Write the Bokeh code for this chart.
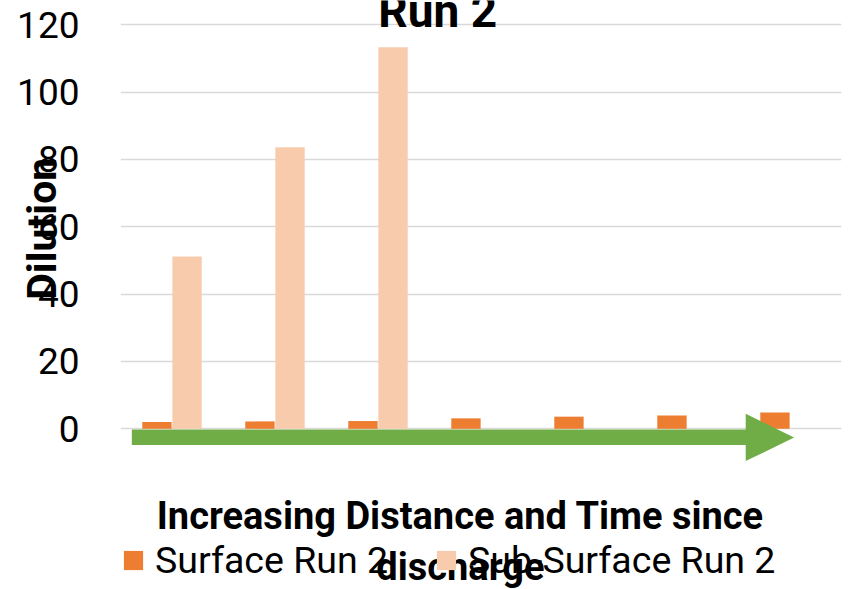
import numpy as np
from bokeh.plotting import figure
from bokeh.models import (ColumnDataSource, FactorRange, Range1d, Label, Legend,
                          LegendItem, FixedTicker)
from bokeh.transform import dodge
from bokeh.embed import file_html
from bokeh.resources import INLINE

# Sampling stations, ordered by distance / time since discharge
stations = ["S1", "S2", "S3", "S4", "S5", "S6", "S7"]

# Dilution factors for run 2
surface_run2 = [2.0, 2.2, 2.3, 3.1, 3.6, 3.95, 4.85]
subsurface_run2 = [51.2, 83.6, 113.3, np.nan, np.nan, np.nan, np.nan]

y_ticks = [0, 20, 40, 60, 80, 100, 120]

SURFACE_COLOR = "#ED7D31"
SUBSURFACE_COLOR = "#F8CBAD"
ARROW_COLOR = "#70AD47"
FONT = "Roboto"

source = ColumnDataSource(data=dict(
    station=stations,
    surface=surface_run2,
    subsurface=np.array(subsurface_run2, dtype=float),
))

p = figure(
    width=848, height=589,
    x_range=FactorRange(*stations, range_padding=0),
    y_range=Range1d(-47.73, 127.2),
    x_axis_location=None,
    toolbar_location=None,
    output_backend="svg",
    min_border_left=120, min_border_right=7,
    min_border_top=0, min_border_bottom=0,
)
p.outline_line_color = None
p.background_fill_color = "white"
p.border_fill_color = "white"

# y axis: big labels, no axis line or ticks, bold title overlapping the labels
p.yaxis.ticker = FixedTicker(ticks=y_ticks)
p.yaxis.axis_line_color = None
p.yaxis.major_tick_line_color = None
p.yaxis.minor_tick_line_color = None
p.yaxis.major_tick_out = 0
p.yaxis.major_tick_in = 0
p.yaxis.major_label_standoff = 41
p.yaxis.major_label_text_font = FONT
p.yaxis.major_label_text_font_size = "37px"
p.yaxis.major_label_text_color = "black"
# leading no-break spaces lift the centred title up alongside the 0-120 span
p.yaxis.axis_label = "\u00a0" * 13 + "Dilution"
p.yaxis.axis_label_standoff = -52
p.yaxis.axis_label_text_font = FONT
p.yaxis.axis_label_text_font_style = "bold"
p.yaxis.axis_label_text_font_size = "41px"
p.yaxis.axis_label_text_color = "black"

p.xgrid.grid_line_color = None
p.ygrid.grid_line_color = "#D9D9D9"
p.ygrid.grid_line_width = 1.5

bar_w = 0.285
r_surf = p.vbar(x=dodge("station", -0.146, range=p.x_range), top="surface",
                width=bar_w, source=source, color=SURFACE_COLOR, line_color=None)
r_sub = p.vbar(x=dodge("station", 0.146, range=p.x_range), top="subsurface",
               width=bar_w, source=source, color=SUBSURFACE_COLOR, line_color=None)

# Direction arrow along the baseline
p.patch(x=[0.11, 6.07, 6.07, 6.54, 6.07, 6.07, 0.11],
        y=[-0.2, -0.2, 4.45, -2.6, -9.6, -4.8, -4.8],
        color=ARROW_COLOR, line_color=None)

# Chart title
p.add_layout(Label(x=3.08, y=124.2, text="Run 2", text_align="center",
                   text_baseline="alphabetic", text_font=FONT,
                   text_font_style="bold", text_font_size="46px",
                   text_color="black"))

# x axis title (two lines)
for txt, yy in [("Increasing Distance and Time since", -25.8), ("discharge", -41.0)]:
    p.add_layout(Label(x=3.30, y=yy, text=txt, text_align="center",
                       text_baseline="alphabetic", text_font=FONT,
                       text_font_style="bold", text_font_size="38px",
                       text_color="black"))

legend = Legend(
    items=[LegendItem(label="Surface Run 2", renderers=[r_surf]),
           LegendItem(label="Sub-Surface Run 2", renderers=[r_sub])],
    orientation="horizontal",
    location=(1, 7),
    margin=0, padding=0, spacing=46,
    glyph_width=24, glyph_height=24, label_standoff=10,
    label_text_font=FONT, label_text_font_size="37.5px",
    label_text_color="black",
    border_line_color=None, background_fill_alpha=0,
)
p.add_layout(legend)

open("out.html", "w").write(file_html(p, INLINE))
